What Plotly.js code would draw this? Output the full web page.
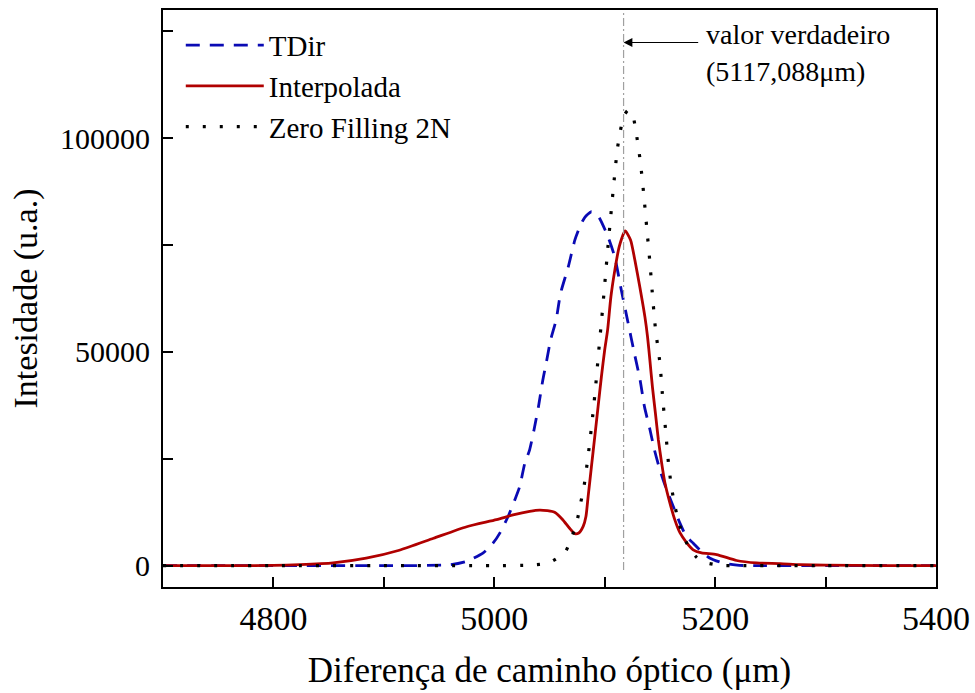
<!DOCTYPE html>
<html>
<head>
<meta charset="utf-8">
<script src="https://cdn.plot.ly/plotly-3.0.1.min.js"></script>
<style>html,body{margin:0;padding:0;background:#fff;}#chart{width:975px;height:693px;}</style>
</head>
<body>
<div id="chart"></div>
<script>
// ---- data ----
const seriesNames = ["TDir", "Interpolada", "Zero Filling 2N"];

const tdirX = [4700, 4800, 4900, 4915, 4960, 4975, 4990, 4999, 5005, 5012.5, 5018.6, 5023, 5027.7, 5032, 5036, 5040, 5044, 5047, 5051, 5056, 5060, 5067, 5073, 5077.5, 5082, 5088, 5094, 5103, 5109, 5115, 5121, 5127, 5132, 5136, 5141, 5145, 5150, 5156, 5162, 5168, 5174, 5180, 5186, 5195, 5207, 5222, 5240, 5300, 5400];
const tdirY = [0, 0, 0, 0, 200, 1000, 3000, 5300, 7600, 11500, 15400, 18500, 24000, 27100, 31800, 37200, 43500, 47400, 52800, 57500, 63700, 69900, 76200, 79300, 81500, 82800, 81800, 76900, 72300, 64500, 57000, 49500, 43500, 37200, 31800, 27100, 22400, 17800, 13900, 10000, 6800, 5300, 3700, 1800, 630, 70, 0, 0, 0];

const interpX = [4700, 4760, 4800, 4824, 4854, 4884, 4914, 4945, 4975, 5002, 5017, 5032, 5041, 5048, 5055, 5062, 5068, 5073, 5076.5, 5080.5, 5083, 5085, 5088, 5091, 5094, 5097, 5100, 5102.6, 5105.6, 5109.2, 5113.1, 5118.5, 5123.4, 5127.3, 5131.8, 5136.4, 5138.8, 5140.9, 5143.2, 5145.9, 5148.6, 5151.5, 5154.5, 5159, 5163.5, 5168.1, 5174.1, 5180.1, 5187.7, 5201.3, 5219.4, 5237.5, 5258.7, 5276.8, 5300, 5350, 5400];
const interpY = [0, 0, 50, 230, 650, 1750, 3600, 6400, 9100, 10750, 11850, 12700, 13000, 12850, 12450, 10750, 8800, 7480, 7640, 9180, 11500, 16200, 23200, 30200, 37200, 44200, 50500, 55100, 62900, 69200, 74600, 78300, 76200, 71500, 65200, 58200, 53500, 48100, 41800, 35700, 29400, 24100, 19400, 14700, 10700, 7700, 5400, 3700, 3000, 2600, 1200, 630, 470, 230, 100, 0, 0];

const zeroX = [4700, 4800, 4900, 5000, 5034, 5049, 5064, 5071, 5075.4, 5078.4, 5081.4, 5085.4, 5089, 5092, 5094.6, 5097.4, 5100.1, 5102.6, 5105.4, 5108.3, 5111.4, 5114, 5117.3, 5121, 5124.6, 5128, 5132.3, 5135.4, 5138.2, 5140.9, 5143.3, 5146, 5150, 5152.4, 5155.1, 5157.8, 5160, 5162, 5165.1, 5169.6, 5176.5, 5183, 5189.2, 5204.3, 5220, 5300, 5400];
const zeroY = [0, 0, 0, 0, 150, 630, 3100, 7240, 10980, 14880, 18760, 26570, 34740, 42520, 50300, 58100, 66050, 73670, 81610, 89560, 97360, 101500, 105200, 106500, 106100, 102100, 94460, 86680, 78670, 70960, 63150, 55300, 47360, 39560, 31780, 23830, 19200, 16050, 12150, 8010, 4140, 2000, 860, 70, 0, 0, 0];

const trueValue = 5117.088;
const trueLabel1 = "valor verdadeiro";
const trueLabel2 = "(5117,088μm)";

const xTickVals = [4800, 5000, 5200, 5400];
const xTickText = ["4800", "5000", "5200", "5400"];
const yTickVals = [0, 50000, 100000];
const yTickText = ["0", "50000", "100000"];

const xTitle = "Diferença de caminho óptico (μm)";
const yTitle = "Intesidade (u.a.)";

const xRange = [4700, 5400];
const yRange = [-5000, 130000];

// ---- chart ----
const FONT = "Liberation Serif, Times New Roman, serif";

const traces = [
  {x: tdirX, y: tdirY, name: seriesNames[0], type: "scatter", mode: "lines",
   line: {color: "#0a0ab4", width: 2.8, dash: "14px,10px", shape: "spline", smoothing: 0.6}},
  {x: interpX, y: interpY, name: seriesNames[1], type: "scatter", mode: "lines",
   line: {color: "#b00000", width: 2.8, shape: "spline", smoothing: 0.6}},
  {x: zeroX, y: zeroY, name: seriesNames[2], type: "scatter", mode: "lines",
   line: {color: "#000000", width: 3.2, dash: "3px,14px", shape: "spline", smoothing: 0.6}}
];

const layout = {
  width: 975, height: 693,
  margin: {l: 163, r: 39, t: 10, b: 106},
  paper_bgcolor: "#ffffff", plot_bgcolor: "#ffffff",
  font: {family: FONT, color: "#000"},
  showlegend: true,
  legend: {x: 0.023, y: 0.983, xanchor: "left", yanchor: "top",
           bgcolor: "rgba(0,0,0,0)", borderwidth: 0, itemwidth: 78,
           font: {family: FONT, size: 29, color: "#000"}, tracegroupgap: 0},
  xaxis: {
    range: xRange, tickvals: xTickVals, ticktext: xTickText,
    ticks: "inside", ticklen: 10, tickwidth: 2, tickcolor: "#000",
    minor: {tickvals: [4900, 5100, 5300], ticks: "inside", ticklen: 10, tickwidth: 2, tickcolor: "#000"},
    showline: true, linewidth: 2, linecolor: "#000", mirror: true,
    showgrid: false, zeroline: false,
    tickfont: {family: FONT, size: 34, color: "#000"},
    title: {text: xTitle, font: {family: FONT, size: 35, color: "#000"}, standoff: 22}
  },
  yaxis: {
    range: yRange, tickvals: yTickVals, ticktext: yTickText,
    ticks: "inside", ticklen: 10, tickwidth: 2, tickcolor: "#000",
    minor: {tickvals: [25000, 75000, 125000], ticks: "inside", ticklen: 10, tickwidth: 2, tickcolor: "#000"},
    showline: true, linewidth: 2, linecolor: "#000", mirror: true,
    showgrid: false, zeroline: false, ticklabelstandoff: 5,
    tickfont: {family: FONT, size: 30, color: "#000"},
    title: {text: yTitle, font: {family: FONT, size: 34, color: "#000"}, standoff: 12}
  },
  shapes: [
    {type: "line", xref: "x", yref: "y", x0: trueValue, x1: trueValue, y0: -1000, y1: yRange[1],
     line: {color: "#a0a0a0", width: 1.2, dash: "8px,3px,2px,3px"}}
  ],
  annotations: [
    {xref: "x", yref: "y", axref: "x", ayref: "y",
     x: trueValue, y: 122400, ax: 5186, ay: 122400,
     text: "", showarrow: true, arrowhead: 2, arrowsize: 1.6, arrowwidth: 1.1, arrowcolor: "#000", standoff: 0},
    {xref: "x", yref: "y", x: 5190, y: 124200, xanchor: "left", yanchor: "middle",
     text: trueLabel1, showarrow: false, font: {family: FONT, size: 28, color: "#000"}},
    {xref: "x", yref: "y", x: 5190, y: 115700, xanchor: "left", yanchor: "middle",
     text: trueLabel2, showarrow: false, font: {family: FONT, size: 28, color: "#000"}}
  ]
};

Plotly.newPlot("chart", traces, layout, {staticPlot: true, displayModeBar: false});
</script>
</body>
</html>
